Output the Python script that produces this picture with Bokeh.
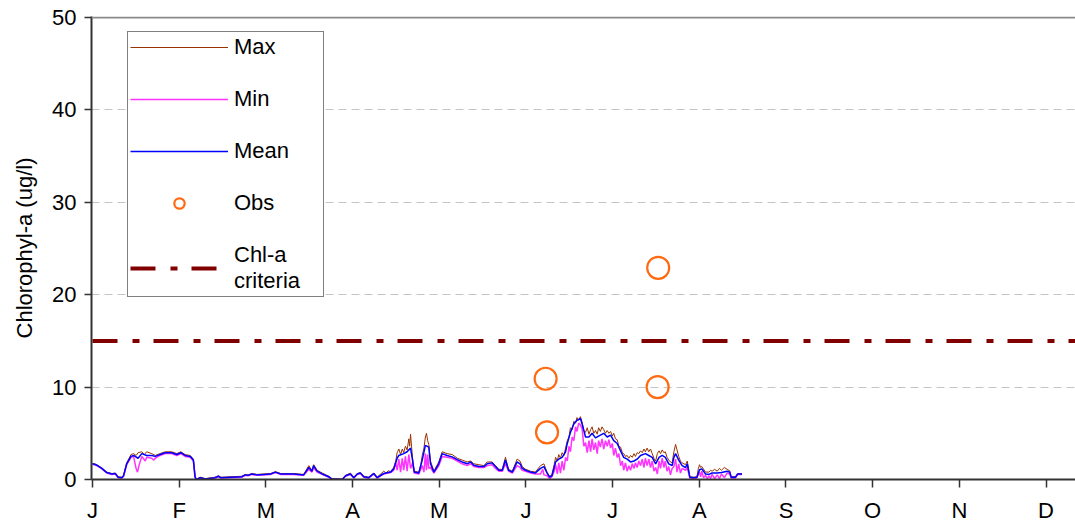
from bokeh.plotting import figure
from bokeh.models import Range1d, FixedTicker, Span, Legend, LegendItem
from bokeh.embed import file_html
from bokeh.resources import INLINE

# ---------------- data ----------------
month_labels = ["J", "F", "M", "A", "M", "J", "J", "A", "S", "O", "N", "D"]

mean_day = [0, 1.2, 3.3, 5, 6.8, 8, 9, 10.3, 10.9, 12, 13.5, 14.4, 16, 17.3, 19, 20.8, 22, 23.7, 25.5, 27.8,
            29.6, 31, 32.5, 34.3, 35.4, 36, 36.5, 37.8, 39.6, 43, 44.2, 45, 52.4, 53.6, 54.6, 55.9, 57.7, 62.5,
            64.2, 66, 70.6, 74.1, 75.9, 77, 77.6, 78.8, 80.6, 82.9, 84, 87.6, 88.8, 90.5, 91.7, 92.9, 94, 95.2,
            96.9, 98.7, 99.9, 102.2, 104.6, 105.7, 106.9, 107.5, 109.2, 110.4, 111.6, 112.3, 112.9, 114.5, 115.7,
            116.8, 118, 118.6, 119.8, 121.5, 122.7, 124.4, 126.2, 128, 129.7, 131.5, 132.7, 133.8, 135.6, 137.3,
            138.5, 140.2, 141.4, 142.6, 143.8, 144.9, 146, 147.3, 149, 150, 150.8, 152, 153.7, 155.4, 157.2, 158.4,
            159.5, 160.4, 161.2, 162.5, 163.6, 164.8, 166, 166.6, 167.7, 168.9, 170, 171.2, 171.8, 173, 174.2,
            175.3, 176.5, 178.2, 179.4, 180.6, 181.8, 182.9, 184.1, 185.3, 186.4, 187.6, 188.8, 190, 191.1, 192.3,
            194, 195.2, 196.4, 197.6, 198.8, 199.9, 201, 202.2, 203.4, 204, 204.6, 205.7, 206.9, 208.1, 208.7,
            209.6, 211, 212.1, 213, 213.8, 215.1, 216.3, 217.4, 219.2, 220.7, 222.7, 223.6, 224.1, 225.6, 226.4,
            227.9]
mean_val = [1.7, 1.6, 1.2, 0.75, 0.6, 0.65, 0.25, 0.2, 0.4, 1.7, 2.5, 2.6, 2.3, 2.8, 2.6, 2.6, 2.5, 2.7, 2.9, 2.9,
            2.7, 2.9, 2.6, 2.5, 2.1, 0.25, 0.0, 0.2, 0.05, 0.2, 0.35, 0.2, 0.3, 0.5, 0.45, 0.6, 0.5, 0.6,
            0.8, 0.6, 0.6, 0.5, 1.3, 0.9, 1.5, 0.9, 0.6, 0.3, 0.05, 0.0, 0.4, 0.6, 0.2, 0.6, 0.7, 0.3,
            0.2, 0.65, 0.2, 0.65, 0.8, 1.15, 2.3, 2.6, 2.8, 3.0, 3.4, 2.1, 0.8, 0.7, 2.1,
            3.7, 3.5, 1.7, 0.8, 1.7, 2.8, 2.6, 2.45, 2.15, 1.9, 1.7, 1.9, 1.55, 1.4, 1.4,
            1.7, 1.8, 1.4, 1.0, 1.0, 2.1, 1.0, 0.8, 1.9, 1.7, 1.2, 1.0, 0.8, 0.7, 1.2, 1.4,
            0.7, 0.25, 0.4, 1.9, 2.2, 2.4, 3.0, 3.9, 5.1, 6.0, 6.4, 6.6, 6.0, 4.6, 4.6,
            5.0, 4.5, 4.8, 5.0, 4.6, 4.8, 4.2, 3.9, 3.1, 2.4, 2.2, 1.9, 2.0, 2.2, 2.6,
            2.8, 2.6, 2.4, 1.7, 2.4, 2.6, 2.4, 1.7, 1.5, 2.4, 2.8, 2.1, 1.5, 1.3, 1.7,
            0.25, 0.2, 0.25, 1.05, 1.15, 0.6, 0.55, 0.7, 0.7, 0.75, 0.9, 0.8, 0.25, 0.25, 0.6,
            0.6]

max_day = [0, 1.2, 3.3, 5, 6.8, 8, 9, 10.3, 10.9, 12, 13.5, 14.4, 15.3, 16, 17.3, 18.2, 19, 20.8, 22, 23.7, 25.5,
           27.8, 29.6, 31, 32.5, 34.3, 35.4, 36, 36.5, 37.8, 39.6, 43, 44.2, 45, 52.4, 53.6, 54.6, 55.9, 57.7,
           62.5, 64.2, 66, 70.6, 74.1, 75.9, 77, 77.6, 78.8, 80.6, 82.9, 84, 87.6, 88.8, 90.5, 91.7, 92.9, 94,
           95.2, 96.9, 98.7, 99.9, 102.2, 103, 103.8, 104.6, 105.7, 106.4, 106.9, 107.5, 108.1, 108.7, 109.2,
           109.8, 110.4, 111, 111.3, 111.6, 112.3, 112.9, 114.5, 115.2, 115.7, 116.3, 116.8, 117.2, 117.6, 118,
           118.6, 119.8, 121.5, 122.7, 124.4, 126.2, 128, 129.7, 131.5, 132.7, 133.8, 135.6, 137.3, 138.5, 140.2,
           141.4, 142.6, 143.8, 144.9, 146, 147.3, 149, 150, 150.8, 152, 153.7, 155.4, 157.2, 158.4, 159.5,
           160.4, 161.2, 162, 162.5, 163.1, 163.6, 164.2, 164.8, 165.4, 166, 166.6, 167.2, 167.7, 168.3, 168.9,
           169.5, 170, 170.6, 171.2, 171.8, 172.4, 173, 173.6, 174.2, 174.8, 175.3, 175.9, 176.5, 177.1, 177.6,
           178.2, 178.8, 179.4, 180, 180.6, 181.2, 181.8, 182.4, 182.9, 183.5, 184.1, 184.7, 185.3, 185.9, 186.4,
           187, 187.6, 188.2, 188.8, 189.4, 190, 190.5, 191.1, 191.7, 192.3, 192.9, 193.5, 194, 194.6, 195.2,
           195.8, 196.4, 197, 197.6, 198.2, 198.8, 199.3, 199.9, 200.5, 201, 201.6, 202.2, 202.8, 203.4, 204,
           204.6, 205.1, 205.7, 206.3, 206.9, 208.1, 208.7, 209.6, 211, 212.1, 212.6, 213, 213.4, 213.8, 215.1,
           216.3, 216.9, 217.4, 218.3, 219.2, 220, 220.7, 221.7, 222.7, 223.6, 224.1, 225.6, 226.4, 227.9]
max_val = [1.75, 1.65, 1.25, 0.8, 0.65, 0.7, 0.3, 0.25, 0.45, 1.8, 2.7, 2.8, 2.6, 2.9, 3.0, 2.7, 3.0, 2.8, 2.6, 2.8, 3.0,
           3.0, 2.8, 3.0, 2.7, 2.6, 2.2, 0.3, 0.05, 0.25, 0.1, 0.25, 0.4, 0.25, 0.35, 0.55, 0.5, 0.65, 0.55,
           0.65, 0.85, 0.65, 0.65, 0.55, 1.5, 1.0, 1.6, 1.0, 0.7, 0.35, 0.1, 0.05, 0.45, 0.7, 0.25, 0.65, 0.75,
           0.35, 0.25, 0.7, 0.25, 0.9, 0.7, 0.95, 0.85, 1.3, 2.0, 2.9, 3.3, 2.7, 3.3, 2.9,
           3.6, 3.2, 4.4, 3.6, 4.9, 2.3, 0.9, 0.8, 1.6, 2.6, 3.4, 4.6, 5.0, 4.2, 3.8,
           2.0, 0.9, 1.9, 3.0, 2.8, 2.7, 2.3, 2.1, 1.9, 2.0, 1.7, 1.6, 1.5, 1.9, 1.9,
           1.5, 1.1, 1.1, 2.4, 1.1, 0.9, 2.2, 2.0, 1.4, 1.1, 0.9, 0.8, 1.5, 1.7, 0.8,
           0.35, 0.5, 1.6, 2.4, 2.0, 2.7, 2.3, 2.9, 2.6, 3.4, 4.2, 4.6, 5.6, 5.4, 6.3,
           6.1, 6.7, 6.4, 6.8, 6.2, 5.3, 5.1, 5.6, 4.9, 5.4, 5.7, 5.0, 5.3, 4.9, 5.6,
           5.2, 5.7, 5.4, 5.0, 5.3, 5.0, 5.2, 4.7, 5.0, 4.4, 4.3, 3.6, 3.5, 2.9, 2.8,
           2.5, 2.6, 2.3, 2.6, 2.4, 2.8, 2.5, 2.9, 2.8, 3.1, 2.9, 3.3, 3.0, 3.4, 3.0,
           3.3, 2.8, 2.3, 2.0, 2.8, 3.1, 2.8, 3.2, 2.9, 3.0, 2.4, 2.1, 1.9, 1.8, 3.0,
           3.8, 3.2, 2.5, 2.0, 1.8, 1.6, 2.0, 0.3, 0.25, 0.3, 1.2, 1.6, 1.3, 1.4, 0.8,
           0.8, 1.0, 0.9, 1.1, 0.9, 1.2, 1.0, 1.3, 1.1, 0.95, 0.3, 0.3, 0.65, 0.65]

min_day = [0, 1.2, 3.3, 5, 6.8, 8, 9, 10.3, 10.9, 12, 13.5, 14.4, 15.3, 15.8, 16.3, 17.3, 18.5, 19, 20.8, 21.5, 22,
           23.7, 25.5, 27.8, 29.6, 31, 32.5, 34.3, 35.4, 36, 36.5, 37.8, 39.6, 43, 44.2, 45, 52.4, 53.6, 54.6,
           55.9, 57.7, 62.5, 64.2, 66, 70.6, 74.1, 75.9, 77, 77.6, 78.8, 80.6, 82.9, 84, 87.6, 88.8, 90.5, 91.7,
           92.9, 94, 95.2, 96.9, 98.7, 99.9, 102.2, 104.6, 105.7, 106.4, 106.9, 107.5, 108.1, 108.7, 109.2,
           109.8, 110.4, 111, 111.6, 112.3, 112.9, 114.5, 115.7, 116.3, 116.8, 117.2, 117.6, 118, 118.6, 119.8,
           121.5, 122.7, 124.4, 126.2, 128, 129.7, 131.5, 132.7, 133.8, 135.6, 137.3, 138.5, 140.2, 141.4, 142.6,
           143.8, 144.9, 146, 147.3, 149, 150, 150.8, 152, 153.7, 155.4, 157.2, 158, 158.4, 159.5, 160.4, 161.2,
           162, 162.5, 163.1, 163.6, 164.2, 164.8, 165.4, 166, 166.6, 167.2, 167.7, 168.3, 168.9, 169.5, 170,
           170.6, 171.2, 171.8, 172.4, 173, 173.6, 174.2, 174.8, 175.3, 175.9, 176.5, 177.1, 177.6, 178.2, 178.8,
           179.4, 180, 180.6, 181.2, 181.8, 182.4, 182.9, 183.5, 184.1, 184.7, 185.3, 185.9, 186.4, 187, 187.6,
           188.2, 188.8, 189.4, 190, 190.5, 191.1, 191.7, 192.3, 192.9, 193.5, 194, 194.6, 195.2, 195.8, 196.4,
           197, 197.6, 198.2, 198.8, 199.3, 199.9, 200.5, 201, 201.6, 202.2, 202.8, 203.4, 204, 204.6, 205.1,
           205.7, 206.3, 206.9, 208.1, 208.7, 209.6, 211, 212.1, 212.6, 213, 213.4, 213.8, 214.4, 215.1, 215.7,
           216.3, 216.9, 217.4, 218.3, 219.2, 220, 220.7, 221.7, 222.7, 223.6, 224.1, 225.6, 226.4, 227.9]
min_val = [1.65, 1.55, 1.15, 0.7, 0.55, 0.6, 0.2, 0.15, 0.35, 1.6, 2.4, 2.5, 1.2, 0.8, 1.5, 2.5, 2.0, 2.4, 2.3, 2.1, 2.3,
           2.6, 2.8, 2.8, 2.6, 2.8, 2.5, 2.4, 2.0, 0.2, 0.0, 0.15, 0.0, 0.15, 0.3, 0.15, 0.25, 0.45, 0.4,
           0.55, 0.45, 0.55, 0.75, 0.55, 0.55, 0.45, 1.1, 0.8, 1.3, 0.8, 0.55, 0.25, 0.0, 0.0, 0.35, 0.55, 0.15,
           0.55, 0.65, 0.25, 0.15, 0.6, 0.15, 0.6, 0.75, 1.0, 1.8, 1.0, 2.2, 0.8, 2.3, 1.0,
           2.5, 0.9, 2.7, 1.2, 1.8, 0.7, 0.6, 1.5, 0.8, 2.8, 1.0, 2.7, 1.2, 1.3, 0.7,
           1.5, 2.5, 2.4, 2.3, 2.0, 1.7, 1.5, 1.7, 1.4, 1.3, 1.3, 1.5, 1.6, 1.2, 0.9,
           0.9, 1.7, 0.9, 0.7, 1.5, 1.3, 1.0, 0.9, 0.7, 0.6, 0.6, 1.1, 0.5, 0.4, 0.1, 0.3,
           0.9, 1.6, 0.6, 1.8, 0.7, 2.0, 1.0, 2.4, 2.0, 3.6, 3.0, 4.6, 4.2, 5.7, 5.2,
           6.1, 5.9, 5.5, 3.6, 4.0, 2.9, 4.2, 3.0, 4.4, 3.2, 4.0, 2.8, 4.2, 3.5, 4.4,
           3.3, 4.2, 3.6, 4.3, 3.4, 3.9, 2.6, 3.4, 2.4, 2.8, 1.5, 2.0, 1.0, 1.8, 0.9,
           1.5, 1.0, 1.7, 1.2, 1.8, 1.3, 2.0, 1.5, 2.2, 1.3, 2.3, 1.5, 2.2, 1.3, 2.0,
           0.9, 1.3, 0.6, 2.0, 1.2, 2.3, 1.3, 2.0, 0.9, 1.4, 0.5, 1.2, 1.4, 2.2, 0.8,
           1.7, 0.7, 1.2, 1.0, 1.3, 0.15, 0.1, 0.15, 0.6, 0.8, 0.3, 0.9, 0.2, 0.45, 0.1,
           0.4, 0.1, 0.55, 0.1, 0.5, 0.1, 0.6, 0.2, 0.7, 0.6, 0.15, 0.15, 0.55, 0.55]

obs_day = [159.0, 159.5, 198.5, 198.3]
obs_val = [10.9, 5.1, 22.9, 10.0]

criteria_day = [0, 365]
criteria_val = [15, 15]

DAYS_PER_MONTH = 365.0 / 12.0


def to_month(days):
    return [d / DAYS_PER_MONTH for d in days]


FONT = "Liberation Sans"

p = figure(width=1075, height=529, output_backend="svg", toolbar_location=None,
           x_range=Range1d(-0.0115, 11.34), y_range=Range1d(0, 50.1),
           min_border_left=91, min_border_right=0, min_border_top=16, min_border_bottom=50,
           background_fill_color="white", border_fill_color="white")
p.outline_line_color = None
p.xgrid.visible = False
p.ygrid.ticker = FixedTicker(ticks=[10, 20, 30, 40])
p.ygrid.grid_line_color = "#c4c4c4"
p.ygrid.grid_line_dash = "8 5"
p.ygrid.grid_line_width = 1

p.add_layout(Span(location=50, dimension="width", line_color="#8a8a8a", line_width=2))

# axes
p.xaxis.ticker = FixedTicker(ticks=list(range(12)))
p.xaxis.major_label_overrides = {i: m for i, m in enumerate(month_labels)}
p.yaxis.ticker = FixedTicker(ticks=[0, 10, 20, 30, 40, 50])
for ax in (p.xaxis[0], p.yaxis[0]):
    ax.axis_line_color = "#333333"
    ax.axis_line_width = 2
    ax.major_tick_line_color = "#333333"
    ax.major_tick_line_width = 1.5
    ax.major_tick_in = 0
    ax.minor_tick_line_color = None
    ax.major_label_text_font = FONT
    ax.major_label_text_font_size = "22px"
    ax.major_label_text_color = "black"
p.xaxis.major_tick_out = 8
p.xaxis.major_label_standoff = 10
p.yaxis.major_tick_out = 7
p.yaxis.major_label_standoff = 8
p.yaxis.axis_label = "Chlorophyl-a (ug/l)"
p.yaxis.axis_label_text_font = FONT
p.yaxis.axis_label_text_font_size = "22px"
p.yaxis.axis_label_text_font_style = "normal"
p.yaxis.axis_label_text_color = "black"
p.yaxis.axis_label_standoff = 12

# glyphs
r_crit = p.line(to_month(criteria_day), criteria_val, line_color="#800000", line_width=4,
                line_dash="25 15 7 14")
r_max = p.line(to_month(max_day), max_val, line_color="#993300", line_width=1)
r_min = p.line(to_month(min_day), min_val, line_color="#ff33ff", line_width=1.5)
r_mean = p.line(to_month(mean_day), mean_val, line_color="#0000ff", line_width=1.5)
r_obs = p.scatter(to_month(obs_day), obs_val, marker="circle", size=22, fill_color=None,
                  line_color="#ff6a10", line_width=2.2)

legend = Legend(items=[
    LegendItem(label="Max", renderers=[r_max]),
    LegendItem(label="Min", renderers=[r_min]),
    LegendItem(label="Mean", renderers=[r_mean]),
    LegendItem(label="Obs", renderers=[r_obs]),
    LegendItem(label="Chl-a\ncriteria", renderers=[r_crit]),
], location=(36, 182))
legend.label_text_font = FONT
legend.label_text_font_size = "22px"
legend.label_text_color = "black"
legend.glyph_width = 98
legend.glyph_height = 26
legend.label_height = 26
legend.label_width = 87
legend.label_standoff = 6
legend.spacing = 26
legend.padding = 2
legend.margin = 0
legend.border_line_color = "black"
legend.border_line_width = 1
legend.background_fill_color = "white"
legend.background_fill_alpha = 1
p.add_layout(legend, "center")

open("out.html", "w").write(file_html(p, INLINE))
